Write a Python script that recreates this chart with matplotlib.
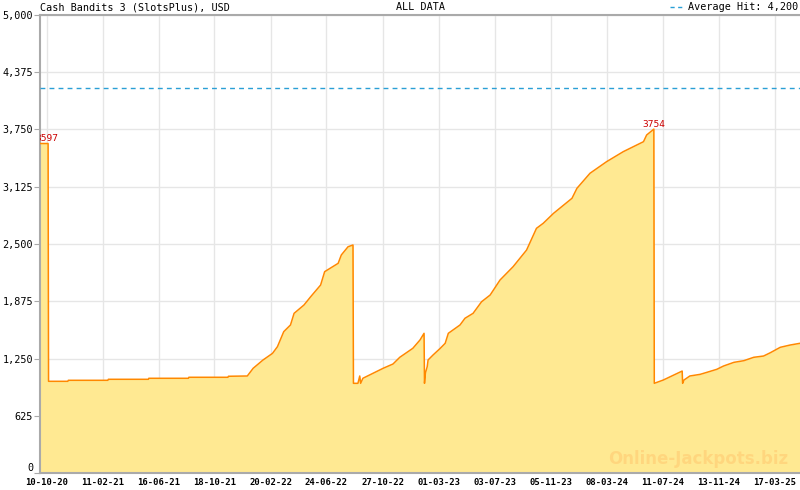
import numpy as np
import pandas as pd
import matplotlib
matplotlib.use('Agg')
import matplotlib.pyplot as plt
import matplotlib.dates as mdates
from matplotlib.lines import Line2D
from matplotlib.ticker import FuncFormatter, FixedLocator

title = 'Cash Bandits 3 (SlotsPlus), USD'
subtitle = 'ALL DATA'
average_hit = 4200

dates = [
    '2020-09-26', '2020-10-13', '2020-10-14', '2020-11-26', '2020-11-27',
    '2021-02-23', '2021-02-24', '2021-05-24', '2021-05-25', '2021-08-21',
    '2021-08-22', '2021-11-17', '2021-11-18', '2021-12-30', '2022-01-12',
    '2022-02-03', '2022-02-24', '2022-03-07', '2022-03-21', '2022-04-05',
    '2022-04-13', '2022-05-05', '2022-05-20', '2022-06-11', '2022-06-20',
    '2022-07-20', '2022-07-27', '2022-08-11', '2022-08-22', '2022-08-23',
    '2022-09-02', '2022-09-06', '2022-09-08', '2022-09-13', '2022-10-28',
    '2022-11-19', '2022-12-04', '2023-01-02', '2023-01-18', '2023-01-27',
    '2023-01-28', '2023-01-30', '2023-02-03', '2023-02-05', '2023-02-16',
    '2023-03-04', '2023-03-15', '2023-03-22', '2023-04-17', '2023-04-28',
    '2023-05-16', '2023-06-04', '2023-06-23', '2023-07-15', '2023-08-13',
    '2023-09-12', '2023-10-04', '2023-10-19', '2023-11-11', '2023-12-22',
    '2024-01-02', '2024-01-31', '2024-03-08', '2024-04-14', '2024-05-29',
    '2024-06-05', '2024-06-21', '2024-06-22', '2024-07-12', '2024-08-23',
    '2024-08-24', '2024-08-27', '2024-09-09', '2024-10-02', '2024-10-17',
    '2024-11-08', '2024-11-23', '2024-12-16', '2025-01-07', '2025-01-29',
    '2025-02-20', '2025-03-07', '2025-03-29', '2025-04-20', '2025-05-12',
]
values = [
    3597, 3597, 1001, 1001, 1012,
    1012, 1023, 1023, 1034, 1034,
    1045, 1045, 1056, 1059, 1143,
    1234, 1306, 1379, 1543, 1616,
    1743, 1834, 1925, 2052, 2198,
    2289, 2380, 2470, 2489, 979,
    979, 1059, 979, 1034, 1143,
    1190, 1263, 1361, 1452, 1525,
    979, 1092, 1160, 1234, 1288,
    1361, 1416, 1525, 1616, 1689,
    1743, 1870, 1943, 2107, 2252,
    2434, 2671, 2726, 2835, 2999,
    3108, 3272, 3399, 3508, 3617,
    3690, 3754, 979, 1015, 1113,
    979, 1015, 1059, 1077, 1099,
    1132, 1168, 1208, 1226, 1263,
    1277, 1313, 1372, 1397, 1416,
]

# peaks labelled in red
peak_dates = ['2020-10-10', '2024-06-21']
peak_values = [3597, 3754]

tick_dates = ['2020-10-10', '2021-02-11', '2021-06-16', '2021-10-18',
              '2022-02-20', '2022-06-24', '2022-10-27', '2023-03-01',
              '2023-07-03', '2023-11-05', '2024-03-08', '2024-07-11',
              '2024-11-13', '2025-03-17']
y_ticks = [0, 625, 1250, 1875, 2500, 3125, 3750, 4375, 5000]

x = mdates.date2num(pd.to_datetime(dates))
xt = mdates.date2num(pd.to_datetime(tick_dates))
x_min = mdates.date2num(pd.Timestamp('2020-09-25'))
x_max = mdates.date2num(pd.Timestamp('2025-05-12'))

mono = 'DejaVu Sans Mono'
grid_c = '#e6e6e6'
axis_c = '#aaaaaa'
avg_c = '#2a9fd6'

fig = plt.figure(figsize=(8, 4.9), dpi=100)
ax = fig.add_axes([40 / 800, 17 / 490, 760 / 800, 458 / 490])

ax.fill_between(x, values, 0, color='#ffe992', lw=0, zorder=2)
ax.plot(x, values, color='#ff8800', lw=1.1, zorder=3)
ax.axhline(average_hit, color=avg_c, lw=1, ls=(0, (3.5, 3)), zorder=4)

ax.set_xlim(x_min, x_max)
ax.set_ylim(0, 5000)

ax.set_yticks(y_ticks)
ax.yaxis.set_major_formatter(FuncFormatter(lambda v, p: '{:,.0f}'.format(v)))
ax.set_xticks(xt)
ax.set_xticklabels([pd.Timestamp(d).strftime('%d-%m-%y') for d in tick_dates])

# minor ticks: 7 per major interval
step = np.mean(np.diff(xt)) / 7
minor = np.arange(xt[0] - 2 * step, x_max, step)
ax.xaxis.set_minor_locator(FixedLocator(minor))

ax.grid(True, which='major', color=grid_c, lw=1, zorder=0)
ax.set_axisbelow(True)

ax.tick_params(axis='x', which='major', direction='in', length=6,
               color=axis_c, pad=3.5, labelsize=6.4)
ax.tick_params(axis='x', which='minor', direction='in', length=3,
               color=axis_c)
ax.tick_params(axis='y', which='major', direction='out', length=4,
               color=axis_c, pad=1, labelsize=7.3)
for lab in ax.get_xticklabels():
    lab.set_fontfamily(mono)
    lab.set_fontweight('bold')
for lab in ax.get_yticklabels():
    lab.set_fontfamily(mono)
ax.get_yticklabels()[0].set_verticalalignment('bottom')

for side in ['left', 'bottom', 'top']:
    ax.spines[side].set_color(axis_c)
    ax.spines[side].set_linewidth(1.5)
ax.spines['right'].set_visible(False)

for d, v in zip(peak_dates, peak_values):
    xd = mdates.date2num(pd.Timestamp(d))
    ax.annotate(str(v), (xd, v), xytext=(0, 1.5), textcoords='offset points',
                ha='center', va='baseline', color='#cc0000', fontsize=6.8,
                family=mono, zorder=5, annotation_clip=False, clip_on=True)

fig.text(40 / 800, 1 - 2 / 490, title, ha='left', va='top', family=mono,
         fontsize=7.3)
fig.text(420 / 800, 1 - 2 / 490, subtitle, ha='center', va='top',
         family=mono, fontsize=7.3)
fig.text(798 / 800, 1 - 2 / 490, 'Average Hit: 4,200', ha='right',
         va='top', family=mono, fontsize=7.3)
fig.add_artist(Line2D([670 / 800, 683 / 800], [1 - 7 / 490, 1 - 7 / 490],
                      color=avg_c, lw=1, ls=(0, (3, 2.5))))

ax.text(0.985, 0.01, 'Online-Jackpots.biz', transform=ax.transAxes,
        ha='right', va='bottom', fontsize=12, fontweight='bold',
        color='#ffd27a', alpha=0.8, zorder=6)

fig.savefig('out.png', dpi=100)
